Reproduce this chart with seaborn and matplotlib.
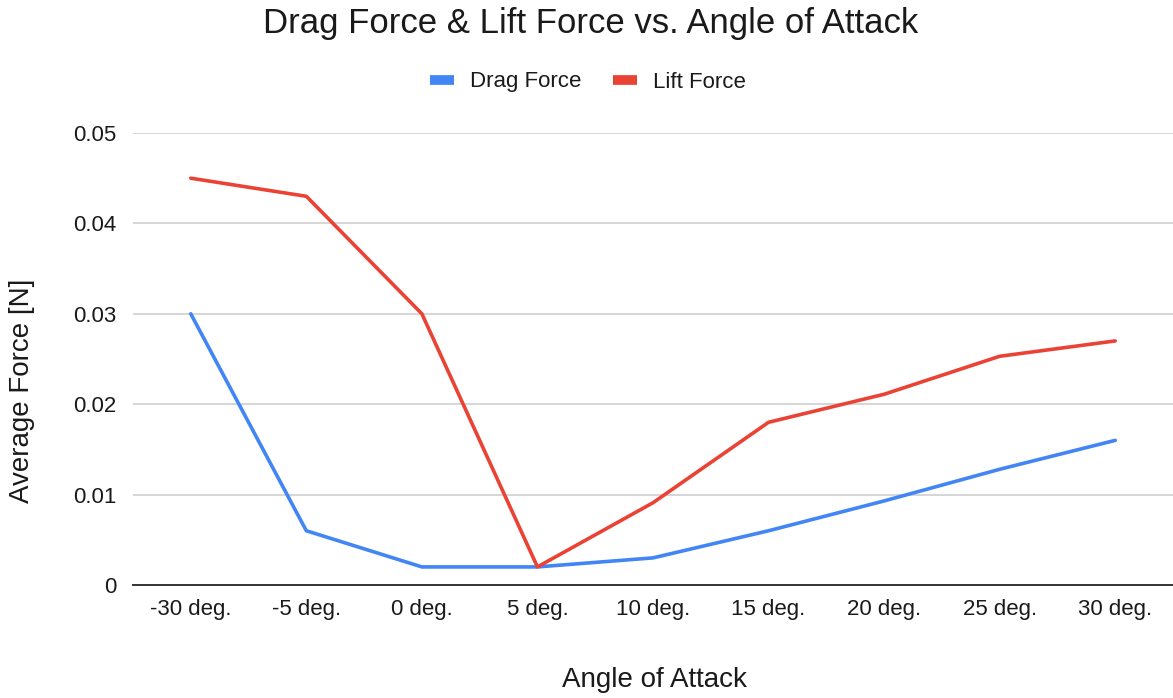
import pandas as pd
import matplotlib
matplotlib.use("Agg")
import matplotlib.pyplot as plt
import seaborn as sns

angles = ["-30 deg.", "-5 deg.", "0 deg.", "5 deg.", "10 deg.", "15 deg.", "20 deg.", "25 deg.", "30 deg."]
drag_force = [0.030, 0.006, 0.002, 0.002, 0.003, 0.006, 0.0093, 0.0128, 0.016]
lift_force = [0.045, 0.043, 0.030, 0.002, 0.0091, 0.018, 0.0211, 0.0253, 0.027]
y_ticks = [0, 0.01, 0.02, 0.03, 0.04, 0.05]
y_tick_labels = ["0", "0.01", "0.02", "0.03", "0.04", "0.05"]

df = pd.DataFrame({
    "angle": angles * 2,
    "pos": list(range(len(angles))) * 2,
    "force": drag_force + lift_force,
    "series": ["Drag Force"] * len(angles) + ["Lift Force"] * len(angles),
})

sns.set_theme(style="white")
plt.rcParams["font.family"] = ["Liberation Sans", "DejaVu Sans"]

text_color = "#1a1a1a"

fig = plt.figure(figsize=(11.73, 6.98), dpi=100)
ax = fig.add_axes([133 / 1173, 1 - 585 / 698, 1040 / 1173, (585 - 133) / 698])

palette = {"Drag Force": "#4285F4", "Lift Force": "#EA4335"}
sns.lineplot(data=df, x="pos", y="force", hue="series", palette=palette,
             linewidth=2.6, ax=ax, legend=False)

ax.set_xlim(-0.5, len(angles) - 0.5)
ax.set_ylim(0, 0.05)
ax.set_xticks(range(len(angles)))
ax.set_xticklabels(angles)
ax.set_yticks(y_ticks)
ax.set_yticklabels(y_tick_labels)
ax.tick_params(axis="both", labelsize=16, colors=text_color, length=0)
ax.tick_params(axis="x", pad=10)
ax.tick_params(axis="y", pad=12)

ax.yaxis.grid(True, color="#cccccc", linewidth=1.1)
ax.set_axisbelow(True)
for side in ["top", "right", "left"]:
    ax.spines[side].set_visible(False)
ax.spines["bottom"].set_color("#333333")
ax.spines["bottom"].set_linewidth(1.4)
ax.spines["bottom"].set_zorder(1)

ax.set_xlabel("")
ax.set_ylabel("")
fig.text(655 / 1173, 1 - 680 / 698, "Angle of Attack", fontsize=20, color=text_color,
         ha="center", va="center")
fig.text(22 / 1173, 1 - 391 / 698, "Average Force [N]", fontsize=20, color=text_color,
         ha="center", va="center", rotation=90)
fig.text(591 / 1173, 1 - 23 / 698, "Drag Force & Lift Force vs. Angle of Attack",
         fontsize=25, color=text_color, ha="center", va="center")

handles = [plt.Line2D([0], [0], color=palette[k], linewidth=7, solid_capstyle="butt")
           for k in palette]
fig.legend(handles, list(palette.keys()), loc="center", bbox_to_anchor=(588 / 1173, 1 - 82 / 698),
           ncol=2, frameon=False, fontsize=16, handlelength=1.05, handletextpad=0.72,
           columnspacing=1.45, labelcolor=text_color)

fig.savefig("out.png", dpi=100, facecolor="white")
